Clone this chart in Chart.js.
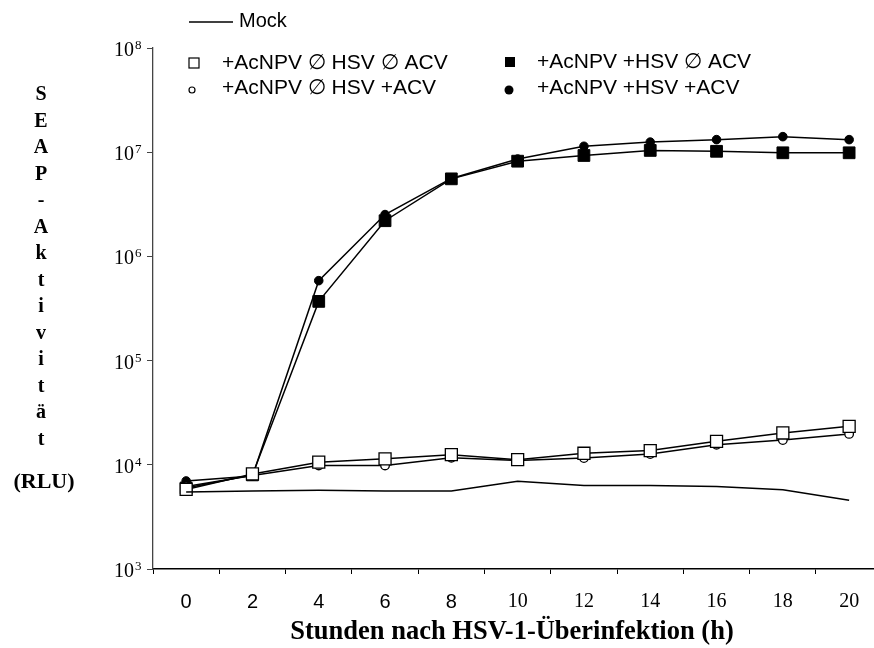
<!DOCTYPE html>
<html>
<head>
<meta charset="utf-8">
<script src="https://cdn.jsdelivr.net/npm/chart.js@4.4.1/dist/chart.umd.min.js"></script>
<style>
  html, body { margin: 0; padding: 0; background: #fff; }
  #contenedor { position: relative; width: 874px; height: 648px; }
</style>
</head>
<body>
<div id="contenedor"><canvas id="grafica_seap"></canvas></div>
<script>
//Datos (RLU)
const horas = [0, 2, 4, 6, 8, 10, 12, 14, 16, 18, 20];
const mock = [5480, 5600, 5690, 5600, 5600, 6970, 6340, 6340, 6200, 5770, 4560];
const acnpv_sin_hsv_sin_acv = [5800, 8170, 10600, 11400, 12500, 11200, 12900, 13700, 16800, 20200, 23400];
const acnpv_sin_hsv_con_acv = [6200, 7900, 9860, 9860, 11700, 11000, 11600, 12700, 15600, 17300, 19800];
const acnpv_hsv_sin_acv = [6000, 8000, 370000, 2200000, 5550000, 8200000, 9300000, 10400000, 10200000, 9870000, 9870000];
const acnpv_hsv_con_acv = [7000, 7800, 585000, 2520000, 5600000, 8600000, 11400000, 12500000, 13200000, 14100000, 13200000];

//Ticks del eje y (potencias de 10)
const exponentes_y = [3, 4, 5, 6, 7, 8];

//Textos
const titulo_x = 'Stunden nach HSV-1-Überinfektion (h)';
const letras_y = ['S', 'E', 'A', 'P', '-', 'A', 'k', 't', 'i', 'v', 'i', 't', 'ä', 't'];
const unidad_y = '(RLU)';
const leyenda_mock = 'Mock';
const leyenda_1 = '+AcNPV \u2205 HSV \u2205 ACV';
const leyenda_2 = '+AcNPV \u2205 HSV +ACV';
const leyenda_3 = '+AcNPV +HSV \u2205 ACV';
const leyenda_4 = '+AcNPV +HSV +ACV';

function puntos(valores) {
  return horas.map((h, i) => ({ x: h, y: valores[i] }));
}

const SANS = 'Liberation Sans';
const SERIF = 'Liberation Serif';

//Rotulos que Chart.js no dibuja: eje y con exponentes, titulos y leyenda
const rotulos = {
  id: 'rotulos',
  afterDraw(chart) {
    const ctx = chart.ctx;
    const escala_y = chart.scales.y;
    ctx.save();
    ctx.fillStyle = '#000';
    ctx.strokeStyle = '#000';

    //10^n
    exponentes_y.forEach(e => {
      const y = escala_y.getPixelForValue(Math.pow(10, e));
      ctx.font = '20px "' + SERIF + '"';
      ctx.textAlign = 'right';
      ctx.textBaseline = 'alphabetic';
      ctx.fillText('10', 134, y + 8);
      ctx.font = '13px "' + SERIF + '"';
      ctx.textAlign = 'left';
      ctx.fillText(String(e), 135, y + 1);
    });

    //titulo y en letras apiladas
    ctx.font = 'bold 20px "' + SERIF + '"';
    ctx.textAlign = 'center';
    ctx.textBaseline = 'middle';
    letras_y.forEach((l, i) => {
      ctx.fillText(l, 41, 95 + i * 26.5);
    });
    ctx.font = 'bold 22px "' + SERIF + '"';
    ctx.fillText(unidad_y, 44, 482);

    //titulo x
    ctx.font = 'bold 26.5px "' + SERIF + '"';
    ctx.textBaseline = 'alphabetic';
    ctx.fillText(titulo_x, 512, 639);

    //leyenda
    ctx.textAlign = 'left';
    ctx.font = '20px "' + SANS + '"';
    ctx.lineWidth = 1.5;
    ctx.beginPath();
    ctx.moveTo(189, 22);
    ctx.lineTo(233, 22);
    ctx.stroke();
    ctx.fillText(leyenda_mock, 239, 27);

    ctx.font = '21px "' + SANS + '"';
    ctx.lineWidth = 1.2;
    ctx.strokeRect(189, 58, 10, 10);
    ctx.fillText(leyenda_1, 222, 68.5);

    ctx.beginPath();
    ctx.arc(192, 90, 3, 0, Math.PI * 2);
    ctx.stroke();
    ctx.fillText(leyenda_2, 222, 94);

    ctx.fillRect(505, 57, 10, 10);
    ctx.fillText(leyenda_3, 537, 68);

    ctx.beginPath();
    ctx.arc(509, 90, 4.5, 0, Math.PI * 2);
    ctx.fill();
    ctx.fillText(leyenda_4, 537, 94);

    ctx.restore();
  }
};

const grafica_seap = document.getElementById('grafica_seap');

const data_seap = {
  datasets: [{
    label: leyenda_mock,
    data: puntos(mock),
    borderColor: '#000',
    borderWidth: 1.5,
    pointRadius: 0,
    fill: false,
    tension: 0
  }, {
    label: leyenda_1,
    data: puntos(acnpv_sin_hsv_sin_acv),
    borderColor: '#000',
    borderWidth: 1.5,
    pointStyle: 'rect',
    pointRadius: 8.5,
    pointBackgroundColor: '#fff',
    pointBorderColor: '#000',
    pointBorderWidth: 1.3,
    fill: false,
    tension: 0
  }, {
    label: leyenda_2,
    data: puntos(acnpv_sin_hsv_con_acv),
    borderColor: '#000',
    borderWidth: 1.5,
    pointStyle: 'circle',
    pointRadius: 4.3,
    pointBackgroundColor: '#fff',
    pointBorderColor: '#000',
    pointBorderWidth: 1.3,
    fill: false,
    tension: 0
  }, {
    label: leyenda_3,
    data: puntos(acnpv_hsv_sin_acv),
    borderColor: '#000',
    borderWidth: 1.5,
    pointStyle: 'rect',
    pointRadius: 8.3,
    pointBackgroundColor: '#000',
    pointBorderColor: '#000',
    pointBorderWidth: 1,
    fill: false,
    tension: 0
  }, {
    label: leyenda_4,
    data: puntos(acnpv_hsv_con_acv),
    borderColor: '#000',
    borderWidth: 1.5,
    pointStyle: 'circle',
    pointRadius: 4.3,
    pointBackgroundColor: '#000',
    pointBorderColor: '#000',
    pointBorderWidth: 1,
    fill: false,
    tension: 0
  }]
};

let grafica_seap_OBJ = new Chart(grafica_seap, {
  type: 'line',
  data: data_seap,
  plugins: [rotulos],
  options: {
    responsive: true,
    maintainAspectRatio: false,
    animation: false,
    devicePixelRatio: 1,
    layout: {
      autoPadding: false,
      padding: { top: 48, right: 0, bottom: 0, left: 0 }
    },
    plugins: {
      legend: { display: false },
      tooltip: { enabled: false }
    },
    scales: {
      x: {
        type: 'linear',
        min: -1,
        max: 20.75,
        afterFit: function (scale) {
          scale.height = 79;
          scale.paddingLeft = 0;
          scale.paddingRight = 0;
        },
        border: { display: true, color: '#000', width: 1.5 },
        grid: {
          drawOnChartArea: false,
          drawTicks: true,
          tickLength: 5,
          lineWidth: 1,
          color: function (c) {
            return (c.tick && Math.abs(c.tick.value % 2) === 1) ? '#000' : 'rgba(0,0,0,0)';
          }
        },
        ticks: {
          stepSize: 1,
          autoSkip: false,
          includeBounds: false,
          maxRotation: 0,
          padding: 16,
          color: '#000',
          font: function (c) {
            if (c.tick && c.tick.value >= 10) return { family: SERIF, size: 20 };
            return { family: SANS, size: 20 };
          },
          callback: function (v) { return v % 2 === 0 ? String(v) : ''; }
        }
      },
      y: {
        type: 'logarithmic',
        min: 1000,
        max: 100000000,
        afterFit: function (scale) {
          scale.width = 153;
          scale.paddingTop = 0;
          scale.paddingBottom = 0;
        },
        afterBuildTicks: function (scale) {
          scale.ticks = exponentes_y.map(e => ({ value: Math.pow(10, e) }));
        },
        border: { display: true, color: '#444', width: 1.3 },
        grid: {
          drawOnChartArea: false,
          drawTicks: true,
          tickLength: 6,
          color: '#444'
        },
        ticks: { display: false }
      }
    }
  }
});
</script>
</body>
</html>
